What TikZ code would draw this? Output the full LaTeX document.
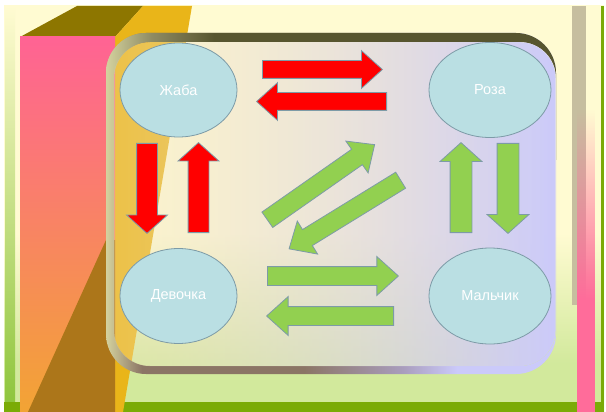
\documentclass[tikz,border=0pt]{standalone}
\usepackage{fontspec}
\newfontfamily\labelfont{Liberation Sans}
\usetikzlibrary{shapes.geometric, shapes.arrows, fadings}

\definecolor{bgyellow}{HTML}{FFFBD2}
\definecolor{bggreen}{HTML}{D2E99C}
\definecolor{stripgreen}{HTML}{8CC43A}
\definecolor{bardark}{HTML}{7AAB06}
\definecolor{stripetan}{HTML}{C6BE9F}
\definecolor{stripepink}{HTML}{FF6C9A}
\definecolor{boxolive}{HTML}{8D7600}
\definecolor{boxgold}{HTML}{E9B519}
\definecolor{boxpink}{HTML}{FF6394}
\definecolor{boxorange}{HTML}{F2A434}
\definecolor{boxbrown}{HTML}{AC761A}
\definecolor{bandlight}{HTML}{D4D29E}
\definecolor{bandmid}{HTML}{8F8C64}
\definecolor{banddark}{HTML}{57552F}
\definecolor{bandbrown}{HTML}{8B7565}
\definecolor{bandmauve}{HTML}{A99DBD}
\definecolor{panelleft}{HTML}{F5E4C3}
\definecolor{panelright}{HTML}{CBCAFA}
\definecolor{ovalfill}{HTML}{BADFE3}
\definecolor{edgeblue}{HTML}{7D9BA7}
\definecolor{arrowred}{HTML}{FF0000}
\definecolor{arrowgreen}{HTML}{92D050}

\pgfdeclareverticalshading{bgshade}{100bp}{color(0bp)=(bggreen); color(25bp)=(bggreen); color(31bp)=(bggreen); color(47bp)=(bgyellow); color(100bp)=(bgyellow)}
\pgfdeclarehorizontalshading{topband}{100bp}{color(0bp)=(bandlight); color(25bp)=(bandlight); color(30bp)=(bandmid); color(37bp)=(banddark); color(100bp)=(banddark)}
\pgfdeclarehorizontalshading{bottomband}{100bp}{color(0bp)=(bandlight); color(25bp)=(bandlight); color(29bp)=(bandbrown); color(47bp)=(bandbrown); color(58bp)=(bandmauve); color(64bp)=(panelright); color(100bp)=(panelright)}

\tikzfading[name=panelfade, left color=transparent!72, right color=transparent!0]
\tikzfading[name=stripefade, top color=transparent!100, bottom color=transparent!0]

\tikzset{
  station/.style={ellipse, draw=edgeblue, line width=0.8pt, fill=ovalfill, inner sep=0pt,
    text=white, font=\labelfont\fontsize{14.5}{17}\selectfont},
  % single arrow: shaft = 2 x inner ysep, minimum height = length
  fatarrow/.style={single arrow, draw=edgeblue, line width=0.8pt, inner xsep=0pt, inner ysep=9pt,
    single arrow head extend=10pt, single arrow tip angle=84, anchor=tail},
  flatarrow/.style={fatarrow},
  tallarrow/.style={fatarrow, inner ysep=10pt, minimum height=90pt, single arrow tip angle=96},
  redarrow/.style={fill=arrowred},
  greenarrow/.style={fill=arrowgreen}
}

\begin{document}
\begin{tikzpicture}[x=1pt, y=-1pt]

    \useasboundingbox (0,0) rectangle (606,412);

    % Slide background
    \fill[white] (0,0) rectangle (606,412);
    \shade[shading=bgshade] (4,6) rectangle (604,412);
    \shade[top color=bgyellow, middle color=stripgreen!60!bgyellow, bottom color=stripgreen] (5,6) rectangle (15,412);
    \fill[bardark] (4,402) rectangle (604,412);
    \fill[bardark] (601,6) rectangle (604,412);

    % Stripes on the right
    \fill[stripetan] (572,6) rectangle (586,305);
    \fill[stripepink, path fading=stripefade] (577,110) rectangle (595,300);
    \fill[stripepink] (577,300) rectangle (595,412);

    % Box on the left
    \fill[boxolive] (20,37) -- (77,6) -- (143,6) -- (115,37) -- cycle;
    \fill[boxgold] (115,37) -- (143,6) -- (192,6) -- (123,412) -- (115,412) -- cycle;
    \shade[top color=boxpink, bottom color=boxorange] (20,37) rectangle (115,412);
    \fill[boxbrown] (28,412) -- (106,240) -- (115,240) -- (115,412) -- cycle;

    % Panel with its shadow band
    \shade[even odd rule, shading=bottomband, rounded corners=40pt] (106,33) rectangle (556,374)
      [rounded corners=36pt] (114,42) rectangle (556,366);
    \begin{scope}
      \clip (0,0) rectangle (606,160);
      \shade[even odd rule, shading=topband, rounded corners=40pt] (106,33) rectangle (556,374)
        [rounded corners=36pt] (114,42) rectangle (556,366);
    \end{scope}
    \shade[left color=panelleft, right color=panelright, path fading=panelfade, rounded corners=36pt]
      (114,42) rectangle (556,366);

    % Red arrows
    \node[flatarrow, redarrow, inner ysep=8.5pt, minimum height=120pt] (zr) at (262,69.5) {};
    \node[flatarrow, redarrow, inner ysep=8.5pt, minimum height=130pt, rotate=180] (rz) at (387,101.5) {};
    \node[tallarrow, redarrow, rotate=270] (zd) at (147,143) {};
    \node[tallarrow, redarrow, rotate=90] (dz) at (198.5,233) {};

    % Green arrows
    \node[tallarrow, greenarrow, inner ysep=10.5pt, rotate=90] (mr) at (461,233) {};
    \node[tallarrow, greenarrow, inner ysep=10.5pt, rotate=270] (rm) at (508,143) {};
    \node[flatarrow, greenarrow, minimum height=131pt] (dm) at (267,276) {};
    \node[flatarrow, greenarrow, minimum height=127pt, rotate=180] (md) at (394,316) {};
    \node[flatarrow, greenarrow, minimum height=131pt, rotate=35] (dr) at (267,220) {};
    \node[flatarrow, greenarrow, minimum height=131pt, rotate=211.6] (rd) at (401,180) {};

    % Ovals
    \node[station, minimum width=117pt, minimum height=94pt] (zhaba) at (178.5,90) {Жаба};
    \node[station, minimum width=122pt, minimum height=95pt] (roza) at (490,90) {Роза};
    \node[station, minimum width=117pt, minimum height=95pt] (devochka) at (178.5,296) {Девочка};
    \node[station, minimum width=122pt, minimum height=96pt] (malchik) at (490,296) {Мальчик};

\end{tikzpicture}
\end{document}
